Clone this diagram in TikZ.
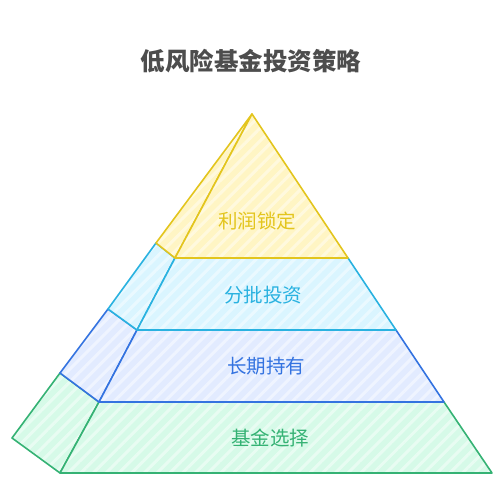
\documentclass[tikz,border=0pt]{standalone}
\usepackage{fontspec}
\setmainfont{Noto Sans CJK SC}
\usetikzlibrary{patterns.meta}
\definecolor{ylwline}{HTML}{E3C51E}
\definecolor{ylwfill}{HTML}{FFF5C4}
\definecolor{cyanline}{HTML}{2AB2E0}
\definecolor{cyanfill}{HTML}{DAF5FF}
\definecolor{blueline}{HTML}{3473E0}
\definecolor{bluefill}{HTML}{E2EBFF}
\definecolor{grnline}{HTML}{35B274}
\definecolor{grnfill}{HTML}{D6FAE8}
\definecolor{titlegray}{HTML}{4D4D4D}
\begin{document}
\begin{tikzpicture}[x=1pt, y=-1pt,
  layer/.style 2 args={draw=#1, line width=1.6pt, line join=round,
    preaction={fill=#2},
    preaction={pattern={Lines[angle=45,distance=9pt,line width=3pt]}, pattern color=white, opacity=0.45}},
  label/.style={font=\fontsize{19.5}{23}\selectfont}]
\useasboundingbox (0,0) rectangle (504,490);
% corners of the pyramid
\coordinate (apex) at (252,114);
\coordinate (l1) at (175,258); \coordinate (r1) at (348,258); \coordinate (b1) at (156,243);
\coordinate (l2) at (137,330); \coordinate (r2) at (396,330); \coordinate (b2) at (108,309);
\coordinate (l3) at (99,402);  \coordinate (r3) at (444,402); \coordinate (b3) at (60,373);
\coordinate (l4) at (60,473);  \coordinate (r4) at (492,473); \coordinate (b4) at (12,438);
% layers, bottom first
\draw[layer={grnline}{grnfill}] (b3) -- (b4) -- (l4) -- (l3) -- cycle;
\draw[layer={grnline}{grnfill}] (l3) -- (l4) -- (r4) -- (r3) -- cycle;
\draw[layer={blueline}{bluefill}] (b2) -- (b3) -- (l3) -- (l2) -- cycle;
\draw[layer={blueline}{bluefill}] (l2) -- (l3) -- (r3) -- (r2) -- cycle;
\draw[layer={cyanline}{cyanfill}] (b1) -- (b2) -- (l2) -- (l1) -- cycle;
\draw[layer={cyanline}{cyanfill}] (l1) -- (l2) -- (r2) -- (r1) -- cycle;
\draw[layer={ylwline}{ylwfill}] (apex) -- (b1) -- (l1) -- cycle;
\draw[layer={ylwline}{ylwfill}] (apex) -- (l1) -- (r1) -- cycle;
% texts
\node[font=\fontsize{24.5}{28}\selectfont\bfseries, text=titlegray] (title) at (251,61) {低风险基金投资策略};
\node[label, text=ylwline] (lock) at (257,221) {利润锁定};
\node[label, text=cyanline] (batch) at (263,295) {分批投资};
\node[label, text=blueline] (hold) at (266,366) {长期持有};
\node[label, text=grnline] (pick) at (270,438) {基金选择};
\end{tikzpicture}
\end{document}
